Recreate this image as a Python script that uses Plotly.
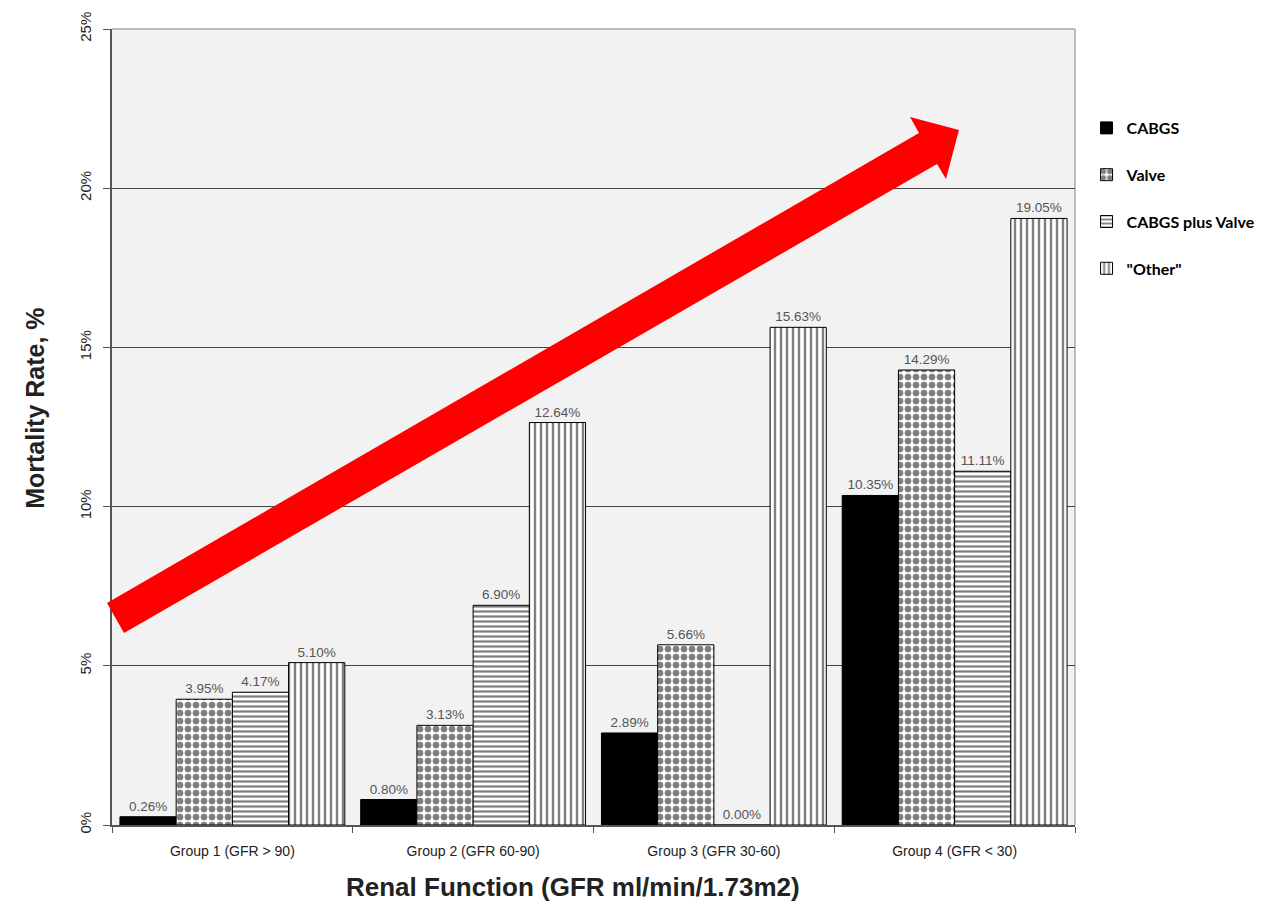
import plotly.graph_objects as go

# Groups by renal function
groups = ["Group 1 (GFR > 90)", "Group 2 (GFR 60-90)", "Group 3 (GFR 30-60)", "Group 4 (GFR < 30)"]

# Mortality rate (%) per procedure type
cabgs = [0.26, 0.80, 2.89, 10.35]
valve = [3.95, 3.13, 5.66, 14.29]
cabgs_plus_valve = [4.17, 6.90, 0.00, 11.11]
other = [5.10, 12.64, 15.63, 19.05]

series_names = ["CABGS", "Valve", "CABGS plus Valve", "\"Other\""]
series_values = [cabgs, valve, cabgs_plus_valve, other]

y_ticks = [0, 5, 10, 15, 20, 25]
y_tick_labels = ["0%", "5%", "10%", "15%", "20%", "25%"]

patterns = [
    dict(shape=""),
    dict(shape=".", size=8, solidity=0.55, fgcolor="black", bgcolor="white", fillmode="overlay"),
    dict(shape="-", size=5, solidity=0.45, fgcolor="black", bgcolor="white", fillmode="overlay"),
    dict(shape="|", size=6, solidity=0.4, fgcolor="black", bgcolor="white", fillmode="overlay"),
]
fills = ["black", "white", "white", "white"]

fig = go.Figure()
for i, (name, vals) in enumerate(zip(series_names, series_values)):
    fig.add_trace(go.Bar(
        x=groups, y=vals, name=name,
        marker=dict(color=fills[i], pattern=patterns[i],
                    line=dict(color="black", width=1)),
        text=[f"{v:.2f}%" for v in vals],
        textposition="outside",
        textfont=dict(family="Liberation Sans, Arial", size=13.5, color="#555"),
        cliponaxis=False,
        legendgroup=name,
    ))

# Upward trend arrow (paper coordinates of the plot area)
arrow_pts = [
    (-0.0052, 0.2789), (0.8380, 0.8693), (0.8287, 0.8894), (0.8795, 0.8731),
    (0.8660, 0.8116), (0.8567, 0.8304), (0.0125, 0.2412),
]
path = "M " + " L ".join(f"{x},{y}" for x, y in arrow_pts) + " Z"
fig.add_shape(type="path", path=path, xref="paper", yref="paper",
              fillcolor="#ff0000", line=dict(width=0), layer="above")

fig.update_layout(
    width=1279, height=911,
    margin=dict(l=112, r=204, t=29, b=86),
    paper_bgcolor="white",
    plot_bgcolor="#f2f2f2",
    barmode="group",
    bargap=0.066,
    bargroupgap=0,
    showlegend=True,
    legend=dict(
        x=1.012, y=0.897, xanchor="left", yanchor="top",
        font=dict(family="Lato, Open Sans", size=16, color="black", weight="bold"),
        tracegroupgap=23, bgcolor="rgba(0,0,0,0)",
    ),
    font=dict(family="Liberation Sans, Arial", color="#222"),
)

fig.update_xaxes(
    showgrid=False,
    showline=True, linecolor="#555", linewidth=1.5,
    ticks="outside", ticklen=6, tickcolor="#555", tickson="boundaries",
    ticklabelstandoff=12,
    tickfont=dict(family="Liberation Sans, Arial", size=14, color="#222"),
    mirror=False,
)
fig.update_yaxes(
    range=[0, 25],
    tickvals=y_ticks, ticktext=y_tick_labels, tickangle=-90,
    showgrid=True, gridcolor="#444", gridwidth=1.2,
    showline=True, linecolor="#555", linewidth=1.5,
    ticks="outside", ticklen=7, tickcolor="#555",
    ticklabelstandoff=6,
    tickfont=dict(family="Liberation Sans, Arial", size=15, color="#222"),
    zeroline=False,
)

# light frame on top and right edges of the plot
fig.add_shape(type="line", xref="paper", yref="paper", x0=0, x1=1, y0=1, y1=1,
              line=dict(color="#aaa", width=1.5), layer="below")
fig.add_shape(type="line", xref="paper", yref="paper", x0=1, x1=1, y0=0, y1=1,
              line=dict(color="#aaa", width=1.5), layer="below")

fig.add_annotation(
    text="Renal Function (GFR ml/min/1.73m2)", xref="paper", yref="paper",
    x=0.479, y=-0.078, xanchor="center", yanchor="middle", showarrow=False,
    font=dict(family="Liberation Sans Narrow, Arial Narrow, Liberation Sans", size=26,
              color="#222", weight="bold"),
)
fig.add_annotation(
    text="Mortality Rate, %", xref="paper", yref="paper",
    x=-0.08, y=0.524, xanchor="center", yanchor="middle", showarrow=False, textangle=-90,
    font=dict(family="Liberation Sans, Arial", size=25, color="#222", weight="bold"),
)

fig.write_html("out.html")
